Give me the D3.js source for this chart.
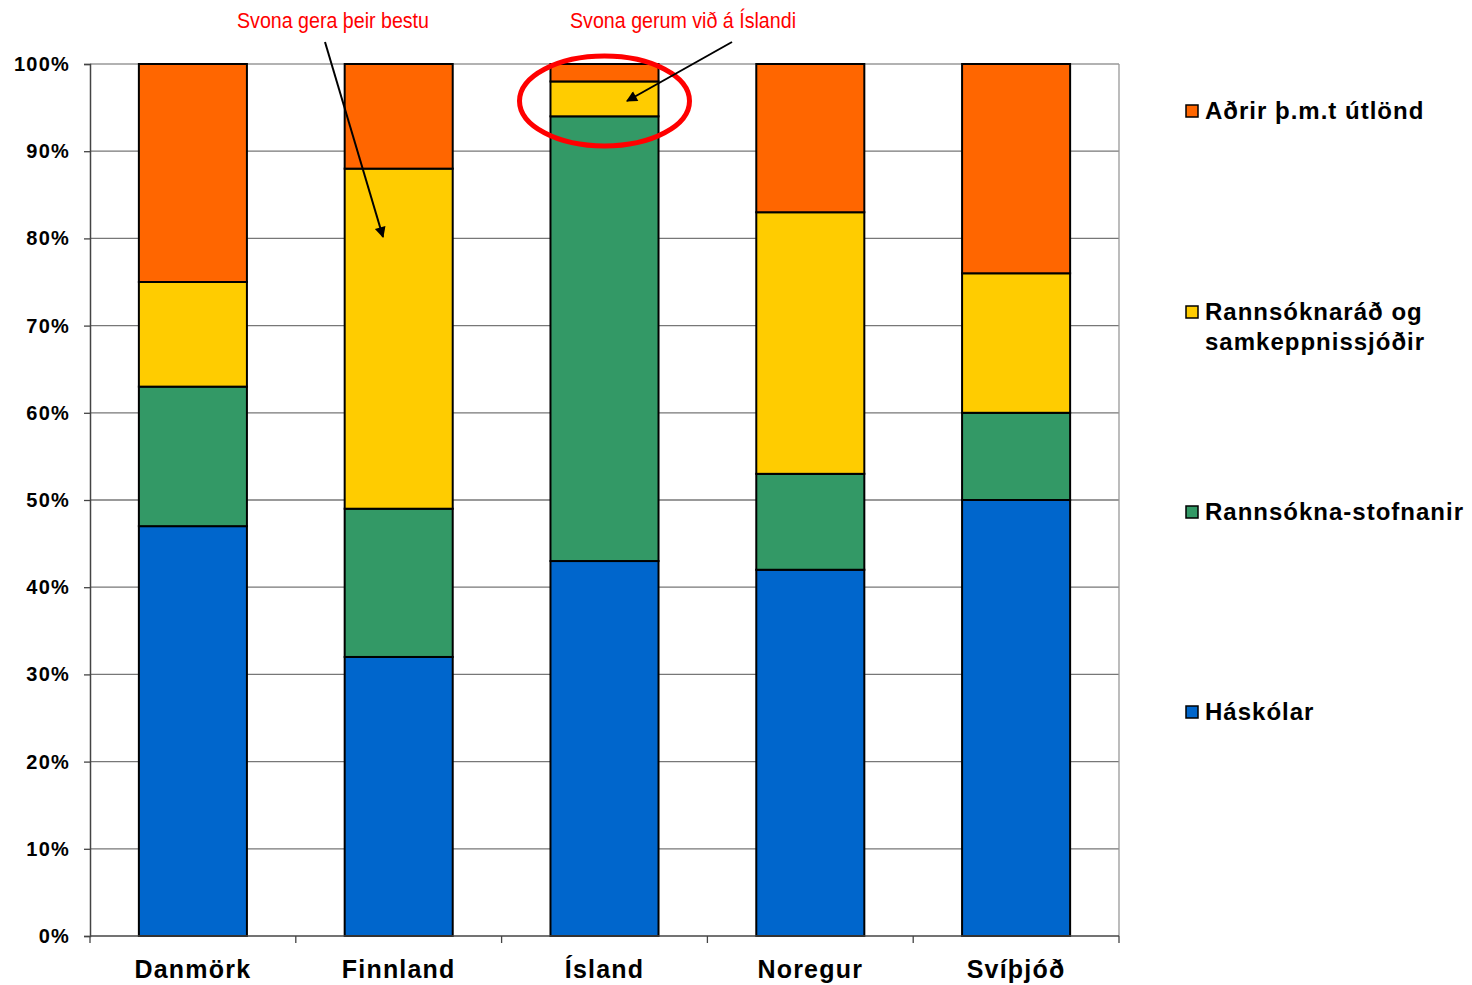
<!DOCTYPE html>
<html>
<head>
<meta charset="utf-8">
<script src="https://cdn.jsdelivr.net/npm/d3@7"></script>
<style>
  body { margin: 0; background: #fff; }
  text { font-family: Arial, "Liberation Sans", sans-serif; }
</style>
</head>
<body>
<div id="chart"></div>
<script>
var svgWidth = 1472;
var svgHeight = 985;

var margin = { top: 64, right: 353, bottom: 49, left: 90 };
var width = svgWidth - margin.left - margin.right;   // 1029
var height = svgHeight - margin.top - margin.bottom; // 872

// data
var countries = ["Danmörk", "Finnland", "Ísland", "Noregur", "Svíþjóð"];
var seriesNames = ["Háskólar", "Rannsókna-stofnanir", "Rannsóknaráð og samkeppnissjóðir", "Aðrir þ.m.t útlönd"];
var haskolar = [47, 32, 43, 42, 50];
var stofnanir = [16, 17, 51, 11, 10];
var rannsoknarad = [12, 39, 4, 30, 16];
var adrir = [25, 12, 2, 17, 24];
var yTicks = [0, 10, 20, 30, 40, 50, 60, 70, 80, 90, 100];
var colors = ["#0066CC", "#339966", "#FFCC00", "#FF6600"];

var table = countries.map(function(c, i) {
  return { country: c, s0: haskolar[i], s1: stofnanir[i], s2: rannsoknarad[i], s3: adrir[i] };
});

var svg = d3.select("#chart")
  .append("svg")
  .attr("width", svgWidth)
  .attr("height", svgHeight);

var chartGroup = svg.append("g")
  .attr("transform", `translate(${margin.left}, ${margin.top})`);

var xScale = d3.scaleBand()
  .domain(countries)
  .range([0, width])
  .paddingInner(0.475)
  .paddingOuter(0.2375);

var yScale = d3.scaleLinear()
  .domain([0, 100])
  .range([height, 0]);

// gridlines
chartGroup.append("g")
  .selectAll("line")
  .data(yTicks.slice(1))
  .enter()
  .append("line")
  .attr("x1", 0)
  .attr("x2", width)
  .attr("y1", d => yScale(d))
  .attr("y2", d => yScale(d))
  .attr("stroke", d => d === 100 ? "#999" : "#777")
  .attr("stroke-width", 1.3);

// right border
chartGroup.append("line")
  .attr("x1", width).attr("x2", width)
  .attr("y1", 0).attr("y2", height)
  .attr("stroke", "#999")
  .attr("stroke-width", 1.3);

// stacked bars
var stack = d3.stack().keys(["s0", "s1", "s2", "s3"]);
var stacked = stack(table);

chartGroup.selectAll("g.layer")
  .data(stacked)
  .enter()
  .append("g")
  .attr("class", "layer")
  .attr("fill", (d, i) => colors[i])
  .selectAll("rect")
  .data(d => d)
  .enter()
  .append("rect")
  .attr("x", d => xScale(d.data.country))
  .attr("y", d => yScale(d[1]))
  .attr("width", xScale.bandwidth())
  .attr("height", d => yScale(d[0]) - yScale(d[1]))
  .attr("stroke", "#000")
  .attr("stroke-width", 2);

// y axis
var leftAxis = d3.axisLeft(yScale)
  .tickValues(yTicks)
  .tickSize(6)
  .tickPadding(14)
  .tickFormat(d => d + "%");

var yAxis = chartGroup.append("g")
  .call(leftAxis);
yAxis.select(".domain").attr("stroke", "#444").attr("stroke-width", 1.5);
yAxis.selectAll(".tick line").attr("stroke", "#444").attr("stroke-width", 1.3);
yAxis.selectAll("text")
  .attr("font-size", 20)
  .attr("font-weight", "bold")
  .attr("fill", "#000")
  .attr("letter-spacing", 1.2)
  .style("font-family", "Arial, 'Liberation Sans', sans-serif");

// x axis line + ticks between categories
var xAxis = chartGroup.append("g")
  .attr("transform", `translate(0, ${height})`);
xAxis.append("line")
  .attr("x1", 0).attr("x2", width)
  .attr("stroke", "#444").attr("stroke-width", 1.5);
xAxis.selectAll("line.sep")
  .data(d3.range(countries.length + 1))
  .enter()
  .append("line")
  .attr("class", "sep")
  .attr("x1", i => i * xScale.step())
  .attr("x2", i => i * xScale.step())
  .attr("y1", 0).attr("y2", 7)
  .attr("stroke", "#444").attr("stroke-width", 1.3);
xAxis.selectAll("text")
  .data(countries)
  .enter()
  .append("text")
  .attr("x", d => xScale(d) + xScale.bandwidth() / 2)
  .attr("y", 42)
  .attr("text-anchor", "middle")
  .attr("font-size", 25)
  .attr("font-weight", "bold")
  .attr("letter-spacing", 1.2)
  .text(d => d);

// legend
var legendData = [
  { i: 3, y: 111, lines: ["Aðrir þ.m.t útlönd"] },
  { i: 2, y: 312, lines: ["Rannsóknaráð og", "samkeppnissjóðir"] },
  { i: 1, y: 512, lines: ["Rannsókna-stofnanir"] },
  { i: 0, y: 712, lines: ["Háskólar"] }
];
var legend = svg.append("g");
legendData.forEach(function(l) {
  legend.append("rect")
    .attr("x", 1186)
    .attr("y", l.y - 6)
    .attr("width", 12)
    .attr("height", 12)
    .attr("fill", colors[l.i])
    .attr("stroke", "#000")
    .attr("stroke-width", 1.5);
  l.lines.forEach(function(t, k) {
    legend.append("text")
      .attr("x", 1205)
      .attr("y", l.y + 8 + k * 30)
      .attr("font-size", 24)
      .attr("font-weight", "bold")
      .attr("letter-spacing", 1)
      .text(t);
  });
});

// annotations
var defs = svg.append("defs");
defs.append("marker")
  .attr("id", "arrow")
  .attr("viewBox", "0 0 10 10")
  .attr("refX", 9)
  .attr("refY", 5)
  .attr("markerWidth", 16)
  .attr("markerHeight", 11)
  .attr("markerUnits", "userSpaceOnUse")
  .attr("orient", "auto")
  .append("path")
  .attr("d", "M0,0 L10,5 L0,10 Z")
  .attr("fill", "#000");

// red ellipse round the Ísland top
svg.append("ellipse")
  .attr("cx", margin.left + xScale("Ísland") + xScale.bandwidth() / 2)
  .attr("cy", 101)
  .attr("rx", 85)
  .attr("ry", 45)
  .attr("fill", "none")
  .attr("stroke", "#FF0000")
  .attr("stroke-width", 5);

svg.append("line")
  .attr("x1", 325).attr("y1", 42)
  .attr("x2", 383).attr("y2", 237)
  .attr("stroke", "#000").attr("stroke-width", 2)
  .attr("marker-end", "url(#arrow)");

svg.append("line")
  .attr("x1", 732).attr("y1", 42)
  .attr("x2", 627).attr("y2", 101)
  .attr("stroke", "#000").attr("stroke-width", 2)
  .attr("marker-end", "url(#arrow)");

var notes = [
  { x: 333, w: 192, text: "Svona gera þeir bestu" },
  { x: 683, w: 226, text: "Svona gerum við á Íslandi" }
];
svg.selectAll("text.note")
  .data(notes)
  .enter()
  .append("text")
  .attr("class", "note")
  .attr("x", d => d.x - d.w / 2)
  .attr("y", 28)
  .attr("fill", "#FF0000")
  .attr("font-size", 22)
  .attr("textLength", d => d.w)
  .attr("lengthAdjust", "spacingAndGlyphs")
  .text(d => d.text);
</script>
</body>
</html>
